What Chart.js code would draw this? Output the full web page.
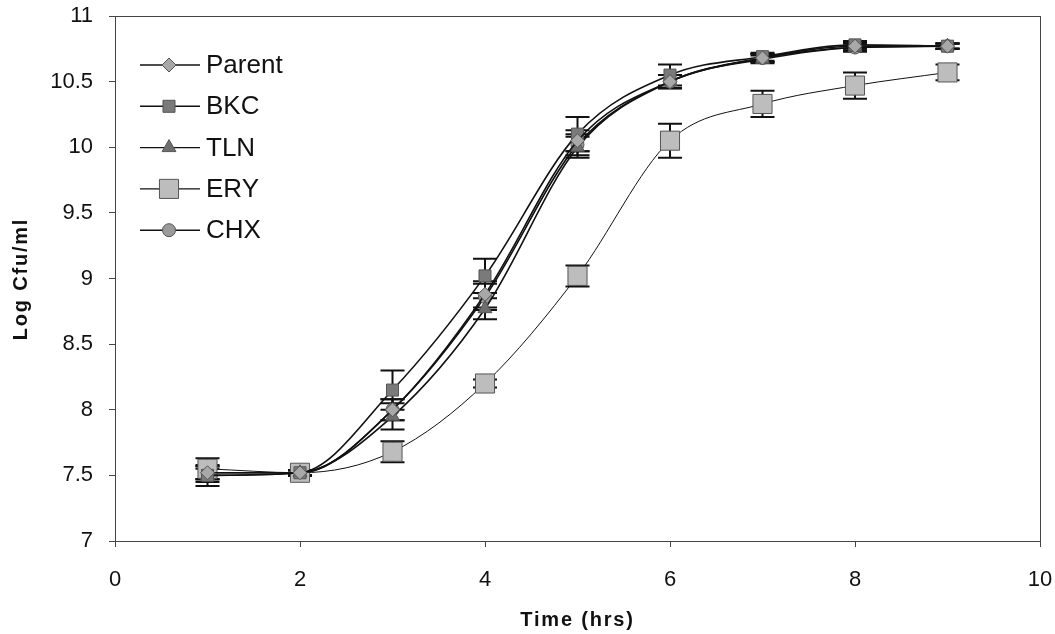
<!DOCTYPE html>
<html>
<head>
<meta charset="utf-8">
<script src="https://cdn.jsdelivr.net/npm/chart.js@4"></script>
<style>
  html, body { margin: 0; padding: 0; background: #fff; }
  #wrap { width: 1055px; height: 634px; }
</style>
</head>
<body>
<div id="wrap"><canvas id="myChart" width="1055" height="634"></canvas></div>
<script>
// time points (hrs)
var hours = [1, 2, 3, 4, 5, 6, 7, 8, 9]

// log cfu/ml for each strain
var parent = [7.52, 7.52, 8.00, 8.88, 10.05, 10.50, 10.68, 10.77, 10.77]
var bkc    = [7.50, 7.52, 8.15, 9.02, 10.10, 10.55, 10.69, 10.78, 10.77]
var tln    = [7.50, 7.52, 7.95, 8.77, 10.00, 10.50, 10.67, 10.76, 10.77]
var ery    = [7.55, 7.52, 7.68, 8.20,  9.02, 10.05, 10.33, 10.47, 10.57]
var chx    = [7.52, 7.52, 8.00, 8.86, 10.02, 10.50, 10.68, 10.76, 10.77]

// error bar sizes (+/-)
var parentErr = [0.05, 0.02, 0.08, 0.10, 0.08, 0.05, 0.03, 0.03, 0.02]
var bkcErr    = [0.08, 0.02, 0.15, 0.13, 0.13, 0.08, 0.03, 0.03, 0.02]
var tlnErr    = [0.05, 0.02, 0.10, 0.08, 0.08, 0.05, 0.03, 0.03, 0.02]
var eryErr    = [0.08, 0.02, 0.08, 0.03, 0.08, 0.13, 0.10, 0.10, 0.06]
var chxErr    = [0.05, 0.02, 0.08, 0.10, 0.08, 0.05, 0.03, 0.03, 0.02]

var yTicks = [7, 7.5, 8, 8.5, 9, 9.5, 10, 10.5, 11]
var xTicks = [0, 2, 4, 6, 8, 10]

var names = ["Parent", "BKC", "TLN", "ERY", "CHX"]

var FONT = '"Liberation Sans", Arial, sans-serif'

function pts(vals) {
    return hours.map((h, i) => ({ x: h, y: vals[i] }))
}

var series = [
    { label: names[0], data: pts(parent), err: parentErr, pointStyle: 'rectRot', pointRadius: 7, pointBackgroundColor: '#a8a8a8', borderWidth: 1.6 },
    { label: names[1], data: pts(bkc), err: bkcErr, pointStyle: 'rect', pointRadius: 8.5, pointBackgroundColor: '#7a7a7a', borderWidth: 1.6 },
    { label: names[2], data: pts(tln), err: tlnErr, pointStyle: 'triangle', pointRadius: 8, pointBackgroundColor: '#6e6e6e', borderWidth: 1.6 },
    { label: names[3], data: pts(ery), err: eryErr, pointStyle: 'rect', pointRadius: 13.5, pointBackgroundColor: '#bdbdbd', borderWidth: 1 },
    { label: names[4], data: pts(chx), err: chxErr, pointStyle: 'circle', pointRadius: 6.5, pointBackgroundColor: '#9a9a9a', borderWidth: 1.6 }
]

var datasets = series.map(s => ({
    label: s.label,
    data: s.data,
    err: s.err,
    showLine: true,
    cubicInterpolationMode: 'monotone',
    borderColor: '#111',
    borderWidth: s.borderWidth,
    pointStyle: s.pointStyle,
    pointRadius: s.pointRadius,
    pointBackgroundColor: s.pointBackgroundColor,
    pointBorderColor: '#555',
    pointBorderWidth: 1
}))

// error bars drawn under the markers
var errorBars = {
    id: 'errorBars',
    beforeDatasetsDraw(chart) {
        var ctx = chart.ctx
        var xs = chart.scales.x, ys = chart.scales.y
        ctx.save()
        ctx.strokeStyle = '#111'
        ctx.lineWidth = 2
        chart.data.datasets.forEach(ds => {
            ds.data.forEach((p, i) => {
                var e = ds.err[i]
                if (!e) return
                var px = xs.getPixelForValue(p.x)
                var top = ys.getPixelForValue(p.y + e)
                var bot = ys.getPixelForValue(p.y - e)
                ctx.beginPath()
                ctx.moveTo(px, top); ctx.lineTo(px, bot)
                ctx.moveTo(px - 12, top); ctx.lineTo(px + 12, top)
                ctx.moveTo(px - 12, bot); ctx.lineTo(px + 12, bot)
                ctx.stroke()
            })
        })
        ctx.restore()
    }
}

// plot area box, axis titles and the legend inside the plot
var boxAndLegend = {
    id: 'boxAndLegend',
    afterDraw(chart) {
        var ctx = chart.ctx
        var a = chart.chartArea
        ctx.save()
        ctx.strokeStyle = '#444'
        ctx.lineWidth = 1
        ctx.strokeRect(a.left + 0.5, a.top + 0.5, a.right - a.left, a.bottom - a.top)

        // axis titles
        ctx.fillStyle = '#111'
        ctx.font = 'bold 20px ' + FONT
        ctx.letterSpacing = '1.8px'
        ctx.textAlign = 'center'
        ctx.textBaseline = 'middle'
        ctx.fillText('Time (hrs)', (a.left + a.right) / 2, 620)
        ctx.save()
        ctx.translate(21, 279)
        ctx.rotate(-Math.PI / 2)
        ctx.fillText('Log Cfu/ml', 0, 0)
        ctx.restore()
        ctx.letterSpacing = '0px'

        // legend
        var y0 = 65, step = 41.3
        ctx.font = '26px ' + FONT
        ctx.textAlign = 'left'
        chart.data.datasets.forEach((ds, i) => {
            var y = y0 + i * step
            ctx.strokeStyle = '#111'
            ctx.lineWidth = 1.4
            ctx.beginPath()
            ctx.moveTo(140, y); ctx.lineTo(200, y)
            ctx.stroke()
            ctx.fillStyle = ds.pointBackgroundColor
            ctx.strokeStyle = ds.pointBorderColor
            ctx.lineWidth = 1
            Chart.helpers.drawPoint(ctx, { pointStyle: ds.pointStyle, radius: ds.pointRadius, rotation: 0, borderWidth: 1 }, 169, y)
            ctx.fillStyle = '#111'
            ctx.fillText(ds.label, 206, y + 1)
        })
        ctx.restore()
    }
}

function noPad(s) {
    s.paddingTop = 0
    s.paddingBottom = 0
    s.paddingLeft = 0
    s.paddingRight = 0
}

var ctx = document.getElementById('myChart').getContext('2d')
var myChart = new Chart(ctx, {
    type: 'scatter',
    data: { datasets: datasets },
    options: {
        responsive: false,
        animation: false,
        layout: { padding: { left: 0, top: 16, right: 15, bottom: 0 } },
        plugins: {
            legend: { display: false },
            tooltip: { enabled: false }
        },
        scales: {
            x: {
                type: 'linear',
                min: 0,
                max: 10,
                afterBuildTicks: s => { s.ticks = xTicks.map(v => ({ value: v })) },
                afterFit: s => { s.height = 93; noPad(s) },
                grid: { drawOnChartArea: false, drawTicks: true, tickLength: 6, color: '#444' },
                border: { color: '#444' },
                ticks: { color: '#111', padding: 20, font: { size: 22, family: FONT } }
            },
            y: {
                min: 7,
                max: 11,
                afterBuildTicks: s => { s.ticks = yTicks.map(v => ({ value: v })) },
                afterFit: s => { s.width = 115; noPad(s) },
                grid: { drawOnChartArea: false, drawTicks: true, tickLength: 6, color: '#444' },
                border: { color: '#444' },
                ticks: { color: '#111', padding: 16, font: { size: 22, family: FONT }, callback: v => String(v) }
            }
        }
    },
    plugins: [errorBars, boxAndLegend]
})
</script>
</body>
</html>
